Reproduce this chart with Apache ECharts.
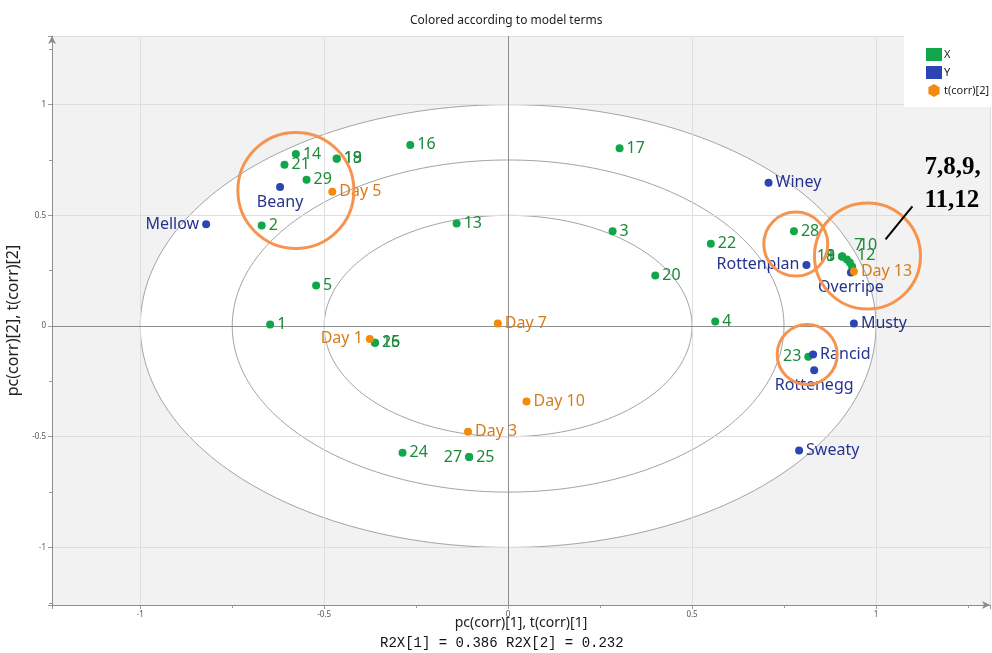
<!DOCTYPE html>
<html>
<head>
<meta charset="utf-8">
<script src="https://cdn.jsdelivr.net/npm/echarts@6/dist/echarts.min.js"></script>
<style>
  html, body { margin: 0; padding: 0; background: #ffffff; }
  #chart { width: 992px; height: 653px; }
</style>
</head>
<body>
<div id="chart"></div>
<script>
// ---- Loadings of the X block (numbered samples) ----
const xTermNames = ['1','2','3','4','5','7','8','9','10','11','12','13','14','15','16','17','18','19','20','21','22','23','24','25','26','27','28','29'];
const xTermPc1 = [-0.647,-0.670,0.284,0.563,-0.522,0.921,0.908,0.908,0.929,0.908,0.935,-0.140,-0.577,-0.362,-0.266,0.303,-0.466,-0.466,0.400,-0.608,0.551,0.816,-0.287,-0.106,-0.362,-0.106,0.777,-0.548];
const xTermPc2 = [0.007,0.454,0.428,0.020,0.183,0.300,0.314,0.314,0.287,0.314,0.269,0.463,0.777,-0.076,0.818,0.803,0.756,0.757,0.228,0.729,0.372,-0.139,-0.572,-0.592,-0.076,-0.592,0.428,0.661];

// ---- Loadings of the Y block (sensory attributes) ----
const yTermNames = ['Mellow','Beany','Winey','Rottenplan','Overripe','Musty','Rancid','Rottenegg','Sweaty'];
const yTermPc1 = [-0.821,-0.620,0.708,0.811,0.932,0.940,0.829,0.832,0.791];
const yTermPc2 = [0.460,0.628,0.647,0.276,0.242,0.011,-0.129,-0.200,-0.562];

// ---- Scores t(corr) per storage day ----
const dayNames = ['Day 1','Day 3','Day 5','Day 7','Day 10','Day 13'];
const dayT1 = [-0.376,-0.109,-0.478,-0.028,0.050,0.940];
const dayT2 = [-0.058,-0.478,0.606,0.011,-0.341,0.246];

// correlation rings (explained variance 100 %, 75 %, 50 %)
const ringRadii = [1, 0.75, 0.5];

// axis windows
const X_MIN = -1.24, X_MAX = 1.31;
const Y_MIN = -1.26, Y_MAX = 1.31;

// label placement for crowded marks
const labelSide = {
  '8': 'left', '9': 'left', '11': 'left', '23': 'left', '27': 'left',
  'Mellow': 'left', 'Rottenplan': 'left', 'Day 1': 'left',
  'Beany': 'bottom', 'Overripe': 'bottom', 'Rottenegg': 'bottom'
};
const labelNudge = { '7': [0, -14], '10': [2, -17], '12': [-2, -11] };

const GREEN = '#12a64a', GREEN_TXT = '#1a8a3b';
const BLUE = '#2c45b5', BLUE_TXT = '#26338e';
const ORANGE = '#f28b0c', ORANGE_TXT = '#d57d1c';
const HILITE = '#f6944f';
const FONT = '"Noto Sans", "Open Sans", sans-serif';

function buildPoints(names, xs, ys) {
  return names.map((n, i) => {
    const item = { name: n, value: [xs[i], ys[i]] };
    const lab = {};
    if (labelSide[n]) lab.position = labelSide[n];
    if (labelNudge[n]) lab.offset = labelNudge[n];
    if (Object.keys(lab).length) item.label = lab;
    return item;
  });
}

const hexIcon = 'path://M5,0 L10,2.9 L10,8.7 L5,11.6 L0,8.7 L0,2.9 Z';

const chart = echarts.init(document.getElementById('chart'), null, { renderer: 'canvas' });

const pointLabel = (color) => ({
  show: true, formatter: '{b}', position: 'right', distance: 3,
  fontSize: 16, fontFamily: FONT, color: color
});

const option = {
  animation: false,
  backgroundColor: '#ffffff',
  title: {
    text: 'Colored according to model terms',
    left: 405, top: 10,
    textStyle: { fontSize: 12, fontWeight: 'normal', color: '#222', fontFamily: FONT }
  },
  legend: {
    orient: 'vertical', left: 921, top: 43,
    itemWidth: 16, itemHeight: 13, itemGap: 5,
    textStyle: { fontSize: 11, color: '#222', fontFamily: FONT, padding: [0, 0, 0, -3] },
    selectedMode: false,
    data: [
      { name: 'X', icon: 'rect' },
      { name: 'Y', icon: 'rect' },
      { name: 't(corr)[2]', icon: hexIcon }
    ],
    z: 8
  },
  grid: {
    left: 52, right: 2, top: 36, bottom: 48,
    outerBoundsMode: 'none',
    containLabel: false,
    show: true, backgroundColor: '#f2f2f2', borderWidth: 0
  },
  xAxis: {
    type: 'value', min: X_MIN, max: X_MAX, splitNumber: 5, z: 3,
    name: 'pc(corr)[1], t(corr)[1]', nameLocation: 'middle', nameGap: 11, nameMoveOverlap: false,
    nameTextStyle: { fontSize: 14, color: '#222', fontFamily: FONT },
    axisLine: { show: true, onZero: false, lineStyle: { color: '#8c8c8c', width: 1 }, symbol: ['none', 'arrow'], symbolSize: [6, 8] },
    axisTick: { show: true, length: 4, lineStyle: { color: '#9a9a9a' } },
    minorTick: { show: true, splitNumber: 2, length: 3, lineStyle: { color: '#9a9a9a' } },
    axisLabel: { fontSize: 8, color: '#555', margin: 6, showMinLabel: false, showMaxLabel: false, fontFamily: FONT },
    splitLine: { show: true, lineStyle: { color: '#dedede', width: 1 } }
  },
  yAxis: {
    type: 'value', min: Y_MIN, max: Y_MAX, splitNumber: 5, z: 3,
    name: 'pc(corr)[2], t(corr)[2]', nameLocation: 'middle', nameGap: 16,
    nameTextStyle: { fontSize: 16, color: '#222', fontFamily: FONT },
    axisLine: { show: true, onZero: false, lineStyle: { color: '#8c8c8c', width: 1 }, symbol: ['none', 'arrow'], symbolSize: [6, 8] },
    axisTick: { show: true, length: 4, lineStyle: { color: '#9a9a9a' } },
    minorTick: { show: true, splitNumber: 2, length: 3, lineStyle: { color: '#9a9a9a' } },
    axisLabel: { fontSize: 8, color: '#555', margin: 6, showMinLabel: false, showMaxLabel: false, fontFamily: FONT },
    splitLine: { show: true, lineStyle: { color: '#dedede', width: 1 } }
  },
  series: [
    {
      // concentric correlation ellipses
      type: 'custom', name: 'rings', z: 1, silent: true,
      data: ringRadii.map(r => [r]),
      encode: { x: -1, y: -1 },
      renderItem: function (params, api) {
        const r = api.value(0);
        const pts = [];
        for (let k = 0; k < 240; k++) {
          const a = k / 240 * Math.PI * 2;
          pts.push(api.coord([r * Math.cos(a), r * Math.sin(a)]));
        }
        return {
          type: 'polygon', shape: { points: pts },
          style: { fill: r === 1 ? '#ffffff' : 'none', stroke: '#a3a3a3', lineWidth: 1 }
        };
      }
    },
    {
      // zero cross lines
      type: 'custom', name: 'origin', z: 4, silent: true,
      data: [[0]],
      encode: { x: -1, y: -1 },
      renderItem: function (params, api) {
        const a = api.coord([X_MIN, 0]), b = api.coord([X_MAX, 0]);
        const c = api.coord([0, Y_MIN]), d = api.coord([0, Y_MAX]);
        const st = { stroke: '#8e8e8e', lineWidth: 1 };
        return {
          type: 'group', children: [
            { type: 'line', shape: { x1: a[0], y1: Math.round(a[1]) + 0.5, x2: b[0], y2: Math.round(b[1]) + 0.5 }, style: st },
            { type: 'line', shape: { x1: Math.round(c[0]) + 0.5, y1: c[1], x2: Math.round(d[0]) + 0.5, y2: d[1] }, style: st }
          ]
        };
      }
    },
    {
      name: 'X', type: 'scatter', z: 5, symbol: 'circle', symbolSize: 8,
      itemStyle: { color: GREEN, opacity: 1 },
      label: pointLabel(GREEN_TXT),
      data: buildPoints(xTermNames, xTermPc1, xTermPc2)
    },
    {
      name: 'Y', type: 'scatter', z: 5, symbol: 'circle', symbolSize: 8,
      itemStyle: { color: BLUE, opacity: 1 },
      label: pointLabel(BLUE_TXT),
      data: buildPoints(yTermNames, yTermPc1, yTermPc2)
    },
    {
      name: 't(corr)[2]', type: 'scatter', z: 5, symbol: 'circle', symbolSize: 8, symbolKeepAspect: true,
      itemStyle: { color: ORANGE, opacity: 1 },
      label: pointLabel(ORANGE_TXT),
      data: buildPoints(dayNames, dayT1, dayT2)
    }
  ]
};

chart.setOption(option);

// highlighted groups and callout, anchored in data units
const highlightRings = [
  { at: [-0.577, 0.612], r: 58 },
  { at: [0.782, 0.370], r: 32 },
  { at: [0.977, 0.316], r: 53 },
  { at: [0.813, -0.129], r: 30 }
];
const calloutFrom = [1.026, 0.391], calloutTo = [1.099, 0.541];
const calloutText = '7,8,9,\n11,12';

const px = (p) => chart.convertToPixel({ gridIndex: 0 }, p);
const gp = chart.getModel().getComponent('grid', 0).coordinateSystem.getRect();

const graphics = [
  // white panel behind the legend
  { type: 'rect', shape: { x: 904, y: gp.y - 1, width: 992 - 904, height: 72 }, style: { fill: '#ffffff' }, z: 6, silent: true }
];
highlightRings.forEach(h => {
  const c = px(h.at);
  graphics.push({ type: 'circle', shape: { cx: c[0], cy: c[1], r: h.r }, style: { fill: 'none', stroke: HILITE, lineWidth: 3 }, z: 7, silent: true });
});
const p1 = px(calloutFrom), p2 = px(calloutTo);
graphics.push({ type: 'line', shape: { x1: p1[0], y1: p1[1], x2: p2[0], y2: p2[1] }, style: { stroke: '#000', lineWidth: 2 }, z: 7, silent: true });
graphics.push({
  type: 'text', x: p2[0] + 12, y: p2[1] - 55, z: 7, silent: true,
  style: { text: calloutText, fontFamily: '"Liberation Serif", "DejaVu Serif", serif', fontWeight: 'bold', fontSize: 25, lineHeight: 33, fill: '#000' }
});
graphics.push({
  type: 'text', left: 380, top: 636, z: 7, silent: true,
  style: { text: 'R2X[1] = 0.386 R2X[2] = 0.232', fontFamily: '"Liberation Mono", "DejaVu Sans Mono", monospace', fontSize: 14, fill: '#111' }
});

chart.setOption({ graphic: graphics });
</script>
</body>
</html>
